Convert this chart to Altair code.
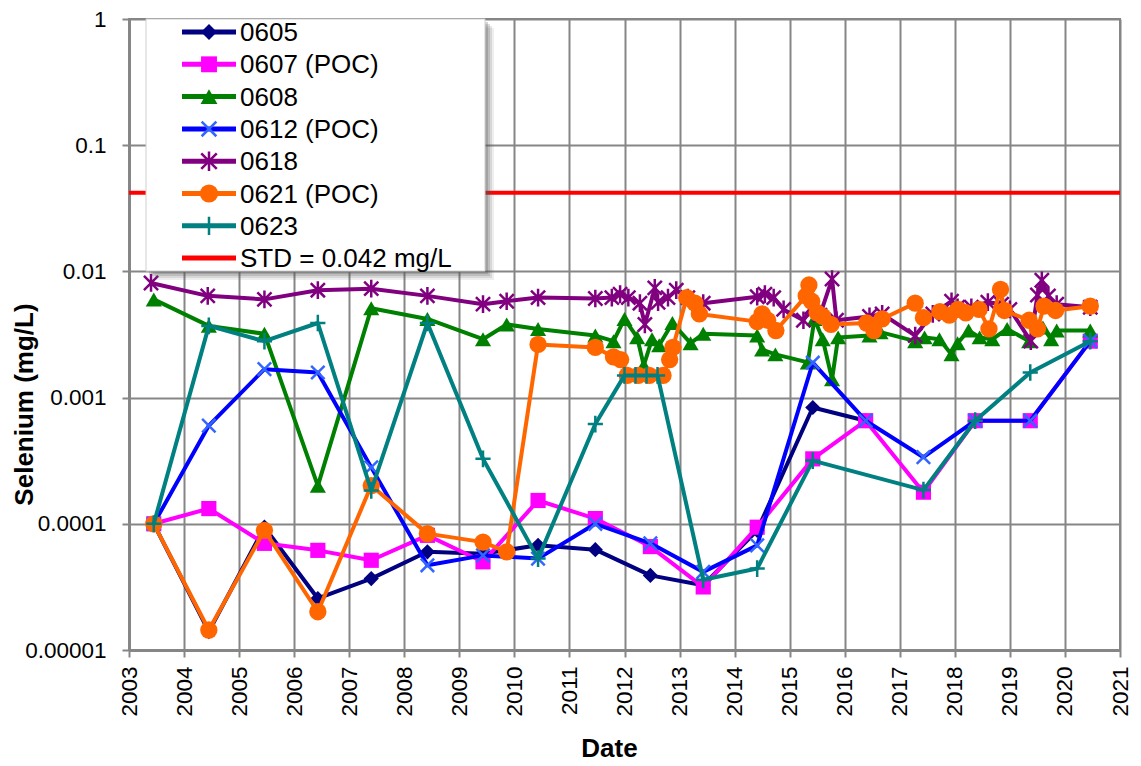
import altair as alt
import pandas as pd

# ---------------- data (decimal year, mg/L) ----------------
YEARS_0605 = [2003.45, 2004.45, 2005.46, 2006.43, 2007.40, 2008.42, 2009.43, 2010.43,
              2011.47, 2012.47, 2013.43, 2014.41, 2015.42, 2016.38]
VALUES_0605 = [0.0001, 0.000014, 0.000094, 0.0000256, 0.0000368, 0.00006, 0.000058, 0.0000675,
               0.0000624, 0.000039, 0.0000326, 0.0000887, 0.000835, 0.000656]

YEARS_0607 = [2003.45, 2004.45, 2005.46, 2006.43, 2007.40, 2008.42, 2009.43, 2010.43, 2011.47,
              2012.47, 2013.43, 2014.41, 2015.42, 2016.38, 2017.43, 2018.37, 2019.37, 2020.46]
VALUES_0607 = [0.0001, 0.000132, 0.00007, 0.0000616, 0.0000514, 0.000081, 0.00005, 0.000153, 0.00011,
               0.000066, 0.0000316, 0.000094, 0.000327, 0.000656, 0.000178, 0.000656, 0.000656, 0.0028]

YEARS_0608 = [2003.45, 2004.45, 2005.46, 2006.43, 2007.40, 2008.42, 2009.43, 2009.86, 2010.43,
              2011.47, 2011.80, 2012.00, 2012.23, 2012.35, 2012.50, 2012.63, 2012.87, 2013.20,
              2013.43, 2014.41, 2014.50, 2014.74, 2015.33, 2015.45, 2015.60, 2015.77, 2015.88,
              2016.45, 2016.65, 2017.28, 2017.45, 2017.72, 2017.94, 2018.05, 2018.25, 2018.45,
              2018.68, 2018.95, 2019.35, 2019.60, 2019.75, 2019.85, 2020.46]
VALUES_0608 = [0.006, 0.0037, 0.0032, 0.0002, 0.0051, 0.0042, 0.0029, 0.0038, 0.0035,
               0.0031, 0.0028, 0.0042, 0.003, 0.0018, 0.0029, 0.0026, 0.0039, 0.0027,
               0.0032, 0.0031, 0.0024, 0.0022, 0.0019, 0.0042, 0.0029, 0.0014, 0.003,
               0.0031, 0.0033, 0.0028, 0.003, 0.0029, 0.0022, 0.0027, 0.0034, 0.003,
               0.0029, 0.0035, 0.0028, 0.0036, 0.0029, 0.0034, 0.0034]

YEARS_0612 = [2003.45, 2004.45, 2005.46, 2006.43, 2007.40, 2008.42, 2009.43, 2010.43, 2011.47,
              2012.47, 2013.43, 2014.41, 2015.42, 2016.38, 2017.43, 2018.37, 2019.37, 2020.46]
VALUES_0612 = [0.0001, 0.0006, 0.00168, 0.00158, 0.00028, 0.0000469, 0.0000562, 0.000053, 0.0001,
               0.00007, 0.0000416, 0.0000675, 0.00189, 0.000656, 0.000337, 0.000656, 0.000656, 0.0028]

YEARS_0618 = [2003.40, 2004.43, 2005.46, 2006.43, 2007.40, 2008.42, 2009.43, 2009.86, 2010.43,
              2011.47, 2011.77, 2011.92, 2012.07, 2012.28, 2012.37, 2012.55, 2012.61, 2012.79,
              2012.94, 2013.15, 2013.43, 2014.41, 2014.55, 2014.71, 2014.89, 2015.25, 2015.40,
              2015.55, 2015.77, 2015.85, 2016.45, 2016.68, 2017.28, 2017.60, 2017.94, 2018.05,
              2018.30, 2018.60, 2018.85, 2019.00, 2019.38, 2019.50, 2019.58, 2019.70, 2019.85, 2020.46]
VALUES_0618 = [0.0081, 0.0064, 0.006, 0.0071, 0.0073, 0.0064, 0.0055, 0.0058, 0.0062,
               0.0061, 0.0062, 0.0066, 0.0062, 0.0056, 0.0038, 0.0074, 0.0057, 0.0062,
               0.0071, 0.0062, 0.0056, 0.0063, 0.0066, 0.0062, 0.005, 0.0041, 0.0052,
               0.0045, 0.0087, 0.0041, 0.0044, 0.0046, 0.0031, 0.0046, 0.0058, 0.0052,
               0.0052, 0.0057, 0.0055, 0.005, 0.0028, 0.0065, 0.0085, 0.0064, 0.0055, 0.0052]

YEARS_0621 = [2003.45, 2004.45, 2005.46, 2006.43, 2007.40, 2008.42, 2009.43, 2009.86, 2010.43,
              2011.47, 2011.80, 2011.93, 2012.05, 2012.25, 2012.45, 2012.70, 2012.82, 2012.88,
              2013.13, 2013.28, 2013.36, 2014.41, 2014.50, 2014.60, 2014.75, 2015.30, 2015.35,
              2015.40, 2015.50, 2015.60, 2015.75, 2016.40, 2016.53, 2016.68, 2017.28, 2017.43,
              2017.73, 2017.90, 2018.06, 2018.20, 2018.44, 2018.62, 2018.83, 2018.90, 2019.35,
              2019.50, 2019.62, 2019.83, 2020.46]
VALUES_0621 = [0.0001, 0.0000144, 0.0000887, 0.0000201, 0.000201, 0.0000836, 0.0000716, 0.00006, 0.00264,
               0.0025, 0.0021, 0.002, 0.0015, 0.0015, 0.0015, 0.0015, 0.002, 0.0025,
               0.0062, 0.0056, 0.0046, 0.004, 0.0046, 0.0041, 0.0034, 0.0064, 0.0078,
               0.0058, 0.0047, 0.0044, 0.0038, 0.0039, 0.0034, 0.0042, 0.0056, 0.0043,
               0.0048, 0.0045, 0.005, 0.0047, 0.005, 0.0035, 0.0072, 0.0049, 0.0041,
               0.0035, 0.0053, 0.0049, 0.0053]

YEARS_0623 = [2003.45, 2004.45, 2005.46, 2006.43, 2007.40, 2008.42, 2009.43, 2010.43, 2011.47,
              2012.00, 2012.20, 2012.40, 2012.60, 2013.43, 2014.41, 2015.42, 2017.43, 2018.37,
              2019.37, 2020.46]
VALUES_0623 = [0.0001, 0.0037, 0.0028, 0.0039, 0.000184, 0.0039, 0.000327, 0.000053, 0.000617,
               0.0015, 0.0015, 0.0015, 0.0015, 0.000036, 0.0000442, 0.000317, 0.000185, 0.000656,
               0.00158, 0.0028]

STD_VALUE = [0.042]
STD_LABEL = "STD = 0.042 mg/L"

SERIES_NAMES = ["0605", "0607 (POC)", "0608", "0612 (POC)", "0618", "0621 (POC)", "0623"]
SERIES_DATA = [(YEARS_0605, VALUES_0605), (YEARS_0607, VALUES_0607), (YEARS_0608, VALUES_0608),
               (YEARS_0612, VALUES_0612), (YEARS_0618, VALUES_0618), (YEARS_0621, VALUES_0621),
               (YEARS_0623, VALUES_0623)]

X_TICKS = list(range(2003, 2022))
Y_TICKS = [0.00001, 0.0001, 0.001, 0.01, 0.1, 1]

# ---------------- styles ----------------
X_MARK = "M-1,-1L1,1M-1,1L1,-1"
STAR_MARK = "M-1,-1L1,1M-1,1L1,-1M0,-1.25L0,1.25"
PLUS_MARK = "M-1,0L1,0M0,-1.1L0,1.1"

STYLES = [
    dict(line="#000080", mark="#000080", shape="diamond", filled=True, size=230),
    dict(line="#FF00FF", mark="#FF00FF", shape="square", filled=True, size=230),
    dict(line="#008000", mark="#008000", shape="triangle-up", filled=True, size=260),
    dict(line="#0000FF", mark="#3366FF", shape=X_MARK, filled=False, size=180),
    dict(line="#800080", mark="#800080", shape=STAR_MARK, filled=False, size=200),
    dict(line="#FF6600", mark="#FF6600", shape="circle", filled=True, size=300),
    dict(line="#008080", mark="#008080", shape=PLUS_MARK, filled=False, size=230),
]

FONT = "Liberation Sans"
GRID = "#868686"

PLOT_TOP_PAD = 11
PLOT_H = 631
PLOT_W = 991

X = alt.X("year:Q",
          scale=alt.Scale(domain=[2003, 2021], nice=False, zero=False),
          axis=alt.Axis(values=X_TICKS, format="d", labelAngle=-90, labelFontSize=22.5,
                        labelFont=FONT, labelColor="black", labelPadding=9, tickSize=7,
                        tickColor=GRID, tickWidth=2, domainColor=GRID, domainWidth=3,
                        grid=True, gridColor=GRID, gridWidth=2, labelFlush=False,
                        labelOverlap=False, title="Date", titleFont=FONT, titleFontSize=26,
                        titleFontWeight="bold", titleColor="black", titleX=480, titleY=106,
                        titleAlign="center", titleBaseline="alphabetic"))

Y = alt.Y("value:Q",
          scale=alt.Scale(type="log", domain=[0.00001, 1], nice=False),
          axis=alt.Axis(values=Y_TICKS, format=".5~f", labelFontSize=22.5, labelFont=FONT,
                        labelColor="black", labelPadding=16, tickSize=7, tickColor=GRID,
                        tickWidth=2, domainColor=GRID, domainWidth=3, grid=True,
                        gridColor=GRID, gridWidth=2, labelFlush=False, labelOverlap=False,
                        title="Selenium (mg/L)", titleFont=FONT, titleFontSize=26,
                        titleFontWeight="bold", titleColor="black", titleAngle=-90,
                        titleX=-105, titleY=385, titleAlign="center", titleBaseline="middle"))

layers = []

# standard line
std_df = pd.DataFrame({"value": STD_VALUE})
layers.append(alt.Chart(std_df).mark_rule(color="#FF0000", strokeWidth=4).encode(y=Y))

# data series
for name, (yrs, vals), st in zip(SERIES_NAMES, SERIES_DATA, STYLES):
    df = pd.DataFrame({"year": yrs, "value": vals})
    base = alt.Chart(df)
    line = base.mark_line(color=st["line"], strokeWidth=4, strokeJoin="round",
                          strokeCap="round").encode(x=X, y=Y)
    if st["filled"]:
        pts = base.mark_point(shape=st["shape"], filled=True, size=st["size"],
                              color=st["mark"], opacity=1).encode(x=X, y=Y)
    else:
        pts = base.mark_point(shape=st["shape"], filled=False, size=st["size"],
                              color=st["mark"], strokeWidth=2.5, opacity=1).encode(x=X, y=Y)
    layers += [line, pts]

# ---------------- legend box (layout in plot pixels) ----------------
one = pd.DataFrame({"k": [0]})
BOX_L, BOX_R, BOX_T, BOX_B = 17, 356, 0, 252
for off, op in [(9, 0.10), (7, 0.15), (5, 0.2), (3, 0.25)]:
    layers.append(alt.Chart(one).mark_rect(color="#555555", opacity=op).encode(
        x=alt.value(BOX_L + off), x2=alt.value(BOX_R + off),
        y=alt.value(BOX_T + off), y2=alt.value(BOX_B + off)))
layers.append(alt.Chart(one).mark_rect(fill="white", stroke="#cfcfcf", strokeWidth=1).encode(
    x=alt.value(BOX_L), x2=alt.value(BOX_R), y=alt.value(BOX_T), y2=alt.value(BOX_B)))

ROW0, ROW_STEP = 13, 32.3
LEG_NAMES = SERIES_NAMES + [STD_LABEL]
LEG_STYLES = STYLES + [dict(line="#FF0000", mark=None)]
for i, (nm, st) in enumerate(zip(LEG_NAMES, LEG_STYLES)):
    ry = ROW0 + i * ROW_STEP
    layers.append(alt.Chart(one).mark_rule(color=st["line"], strokeWidth=5).encode(
        x=alt.value(53), x2=alt.value(107), y=alt.value(ry)))
    if st["mark"] is not None:
        if st["filled"]:
            mk = alt.Chart(one).mark_point(shape=st["shape"], filled=True, size=st["size"] * 1.1,
                                           color=st["mark"], opacity=1)
        else:
            mk = alt.Chart(one).mark_point(shape=st["shape"], filled=False, size=st["size"] * 1.2,
                                           color=st["mark"], strokeWidth=2.5, opacity=1)
        layers.append(mk.encode(x=alt.value(80), y=alt.value(ry)))
    layers.append(alt.Chart(one).mark_text(text=nm, align="left", baseline="middle",
                                           fontSize=26, font=FONT, color="black").encode(
        x=alt.value(111), y=alt.value(ry + 1)))

chart = alt.layer(*layers).properties(
    width=PLOT_W, height=PLOT_H,
    autosize=alt.AutoSizeParams(type="none"),
    padding={"left": 121, "top": PLOT_TOP_PAD, "right": 13, "bottom": 114},
    background="white",
).configure_view(stroke=GRID, strokeWidth=2)

chart.save("out.html", embed_options={"renderer": "svg", "actions": False})
